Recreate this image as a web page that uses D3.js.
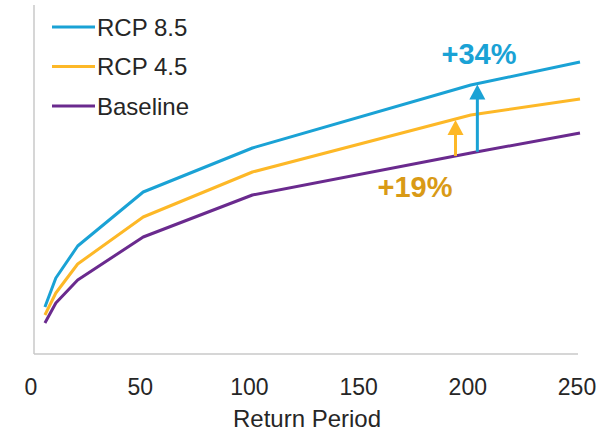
<!DOCTYPE html>
<html>
<head>
<meta charset="utf-8">
<script src="https://cdn.jsdelivr.net/npm/d3@7"></script>
<style>
  html, body { margin: 0; padding: 0; background: #fff; }
  svg { display: block; font-family: "Liberation Sans", Arial, sans-serif; }
</style>
</head>
<body>
<svg id="chart" width="610" height="432"></svg>
<script>
// Return periods (years) and flood magnitude for each scenario (relative units)
const returnPeriods = [5, 10, 20, 50, 100, 200, 250];
const baseline = [31, 51, 74, 117, 159, 201, 221];
const rcp45 = [39, 61, 90, 137, 182, 239, 255];
const rcp85 = [47, 76, 108, 162, 206, 269, 292];
const xTicks = [0, 50, 100, 150, 200, 250];

const seriesNames = ["RCP 8.5", "RCP 4.5", "Baseline"];
const seriesColors = ["#1AA2D5", "#FDB827", "#6A2A8E"];
const seriesValues = [rcp85, rcp45, baseline];

// Change annotations: scenario index, return period where the arrow sits, label
const changeLabels = ["+34%", "+19%"];
const changeAt = [203, 193];

const svg = d3.select("#chart");

const x = d3.scaleLinear().domain([0, 250]).range([34, 580]);
const y = d3.scaleLinear().domain([0, 350]).range([354, 4]);

// axes lines
svg.append("line")
  .attr("x1", x(0)).attr("x2", x(0))
  .attr("y1", 5).attr("y2", y(0))
  .attr("stroke", "#C8C8C8").attr("stroke-width", 1.5);
svg.append("line")
  .attr("x1", x(0)).attr("x2", 578)
  .attr("y1", y(0)).attr("y2", y(0))
  .attr("stroke", "#C8C8C8").attr("stroke-width", 1.5);

// x tick labels
const xAxis = d3.axisBottom(x).tickValues(xTicks).tickSize(0).tickPadding(0);
const gx = svg.append("g")
  .attr("transform", `translate(-3.5, 395)`)
  .call(xAxis);
gx.select(".domain").remove();
gx.selectAll("text")
  .attr("dy", 0)
  .attr("y", 0)
  .attr("font-size", 23)
  .attr("font-family", "Liberation Sans, Arial, sans-serif")
  .attr("fill", "#262626");

svg.append("text")
  .attr("x", 307).attr("y", 427)
  .attr("text-anchor", "middle")
  .attr("font-size", 24)
  .attr("fill", "#262626")
  .text("Return Period");

// series lines
const line = d3.line()
  .x((d, i) => x(returnPeriods[i]))
  .y(d => y(d));

seriesValues.forEach((vals, k) => {
  svg.append("path")
    .datum(vals)
    .attr("d", line)
    .attr("fill", "none")
    .attr("stroke", seriesColors[k])
    .attr("stroke-width", 3)
    .attr("stroke-linejoin", "round");
});

// linear interpolation along a series at a given return period
function valueAt(vals, rp) {
  for (let i = 0; i < returnPeriods.length - 1; i++) {
    const a = returnPeriods[i], b = returnPeriods[i + 1];
    if (rp >= a && rp <= b) {
      const t = (rp - a) / (b - a);
      return vals[i] + t * (vals[i + 1] - vals[i]);
    }
  }
  return vals[vals.length - 1];
}

// arrows from baseline up to each scenario
const arrowSeries = [rcp85, rcp45];
const arrowColors = ["#1AA2D5", "#FDB827"];
arrowSeries.forEach((vals, k) => {
  const rp = changeAt[k];
  const px = x(rp);
  const y0 = y(valueAt(baseline, rp));
  const y1 = y(valueAt(vals, rp)) + 1;
  const headH = 15, headW = 16;
  svg.append("line")
    .attr("x1", px).attr("x2", px)
    .attr("y1", y0).attr("y2", y1 + headH - 1)
    .attr("stroke", arrowColors[k]).attr("stroke-width", 3);
  svg.append("path")
    .attr("d", `M${px},${y1} L${px - headW / 2},${y1 + headH} L${px + headW / 2},${y1 + headH} Z`)
    .attr("fill", arrowColors[k]);
});

// change labels
svg.append("text")
  .attr("x", 479).attr("y", 64)
  .attr("text-anchor", "middle")
  .attr("font-size", 29).attr("font-weight", "bold")
  .attr("fill", "#1AA2D5")
  .text(changeLabels[0]);
svg.append("text")
  .attr("x", 415).attr("y", 197)
  .attr("text-anchor", "middle")
  .attr("font-size", 29).attr("font-weight", "bold")
  .attr("fill", "#D99A16")
  .text(changeLabels[1]);

// legend
const legend = svg.append("g");
seriesNames.forEach((name, k) => {
  const ly = 27 + k * 39.5;
  legend.append("line")
    .attr("x1", 52).attr("x2", 95)
    .attr("y1", ly).attr("y2", ly)
    .attr("stroke", seriesColors[k]).attr("stroke-width", 3);
  legend.append("text")
    .attr("x", 97).attr("y", ly + 8.5)
    .attr("font-size", 24)
    .attr("fill", "#262626")
    .text(name);
});
</script>
</body>
</html>
